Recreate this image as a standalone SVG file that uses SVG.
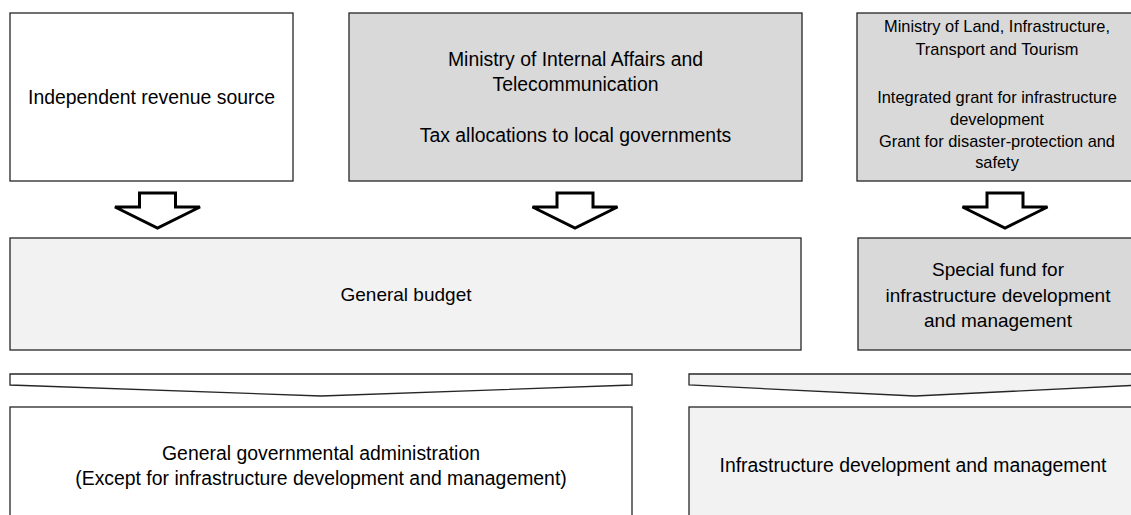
<svg xmlns="http://www.w3.org/2000/svg" width="1131" height="515" viewBox="0 0 1131 515">
<style>
.box{stroke:#262626;stroke-width:1.3}
.w{fill:#ffffff}
.g{fill:#d9d9d9}
.l{fill:#f2f2f2}
.arr{fill:#ffffff;stroke:#000;stroke-width:3;stroke-linejoin:miter}
.chev{stroke:#262626;stroke-width:1.3}
text{font-family:"Liberation Sans",Arial,sans-serif;fill:#000;text-anchor:middle}
.t18{font-size:19.4px}
.t19{font-size:19px}
.t16{font-size:16.4px}
</style>
<rect width="1131" height="515" fill="#fff"/>
<g id="independent-revenue">
<rect class="box w" x="10" y="13" width="283" height="168"/>
<text class="t18" x="151.5" y="104">Independent revenue source</text>
</g>
<g id="ministry-internal">
<rect class="box g" x="349" y="13" width="453" height="168"/>
<text class="t18" x="575.5" y="66">Ministry of Internal Affairs and</text>
<text class="t18" x="575.5" y="91">Telecommunication</text>
<text class="t18" x="575.5" y="142">Tax allocations to local governments</text>
</g>
<g id="ministry-land">
<rect class="box g" x="857" y="13" width="284" height="168"/>
<text class="t16" x="997" y="32">Ministry of Land, Infrastructure,</text>
<text class="t16" x="997" y="55">Transport and Tourism</text>
<text class="t16" x="997" y="103">Integrated grant for infrastructure</text>
<text class="t16" x="997" y="125">development</text>
<text class="t16" x="997" y="147">Grant for disaster-protection and</text>
<text class="t16" x="997" y="168">safety</text>
</g>
<g id="general-budget">
<rect class="box l" x="10" y="238" width="791" height="112"/>
<text class="t19" x="406" y="301">General budget</text>
</g>
<g id="special-fund">
<rect class="box g" x="858" y="238" width="283" height="112"/>
<text class="t19" x="998" y="276">Special fund for</text>
<text class="t19" x="998" y="302">infrastructure development</text>
<text class="t19" x="998" y="327">and management</text>
</g>
<g id="general-admin">
<rect class="box w" x="10" y="407" width="622" height="120"/>
<text class="t18" x="321" y="460">General governmental administration</text>
<text class="t18" x="321" y="485">(Except for infrastructure development and management)</text>
</g>
<g id="infra-mgmt">
<rect class="box l" x="689" y="407" width="452" height="120"/>
<text class="t18" x="913" y="472">Infrastructure development and management</text>
</g>
<g id="connectors">
<polygon class="arr" points="139.5,193 175.5,193 175.5,207 200,207 157.5,228 115,207 139.5,207"/>
<polygon class="arr" points="557,193 593,193 593,207 617.5,207 575,228 532.5,207 557,207"/>
<polygon class="arr" points="987,193 1023,193 1023,207 1047.5,207 1005,228 962.5,207 987,207"/>
<polygon class="chev w" points="10,374 632,374 632,385 321,396 10,385"/>
<polygon class="chev l" points="689,374 1141,374 1141,385 915,396 689,385"/>
</g>
</svg>
